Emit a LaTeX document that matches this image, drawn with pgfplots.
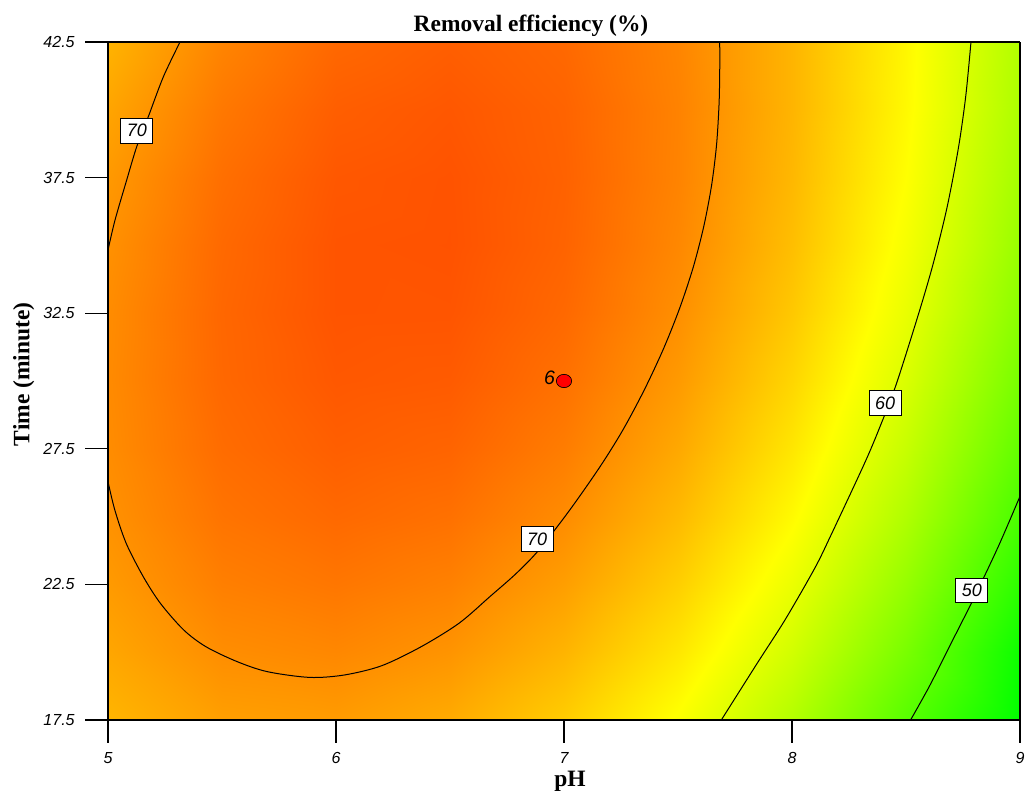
\documentclass[border=0pt]{standalone}
\usepackage{fontspec}
\setmainfont{Liberation Serif}
\newfontfamily\arial{Liberation Sans}
\usepackage{pgfplots}
\pgfplotsset{compat=1.18}
\pgfplotstableread{
x y z
5 17.5 67.19
5.5 17.5 68.77
6 17.5 69.03
6.5 17.5 67.94
7 17.5 65.52
7.5 17.5 61.76
8 17.5 56.66
8.5 17.5 50.22
9 17.5 42.45
5 20 68.27
5.5 20 70.03
6 20 70.46
6.5 20 69.55
7 20 67.30
7.5 20 63.71
8 20 58.78
8.5 20 52.52
9 20 44.92
5 22.5 69.11
5.5 22.5 71.05
6 22.5 71.65
6.5 22.5 70.91
7 22.5 68.83
7.5 22.5 65.42
8 22.5 60.67
8.5 22.5 54.58
9 22.5 47.16
5 25 69.72
5.5 25 71.83
6 25 72.61
6.5 25 72.04
7 25 70.14
7.5 25 66.91
8 25 62.33
8.5 25 56.42
9 25 49.17
5 27.5 70.08
5.5 27.5 72.37
6 27.5 73.32
6.5 27.5 72.93
7 27.5 71.21
7.5 27.5 68.14
8 27.5 63.74
8.5 27.5 58.01
9 27.5 50.93
5 30 70.22
5.5 30 72.68
6 30 73.80
6.5 30 73.59
7 30 72.04
7.5 30 69.15
8 30 64.92
8.5 30 59.36
9 30 52.46
5 32.5 70.11
5.5 32.5 72.75
6 32.5 74.05
6.5 32.5 74.01
7 32.5 72.64
7.5 32.5 69.93
8 32.5 65.88
8.5 32.5 60.49
9 32.5 53.76
5 35 69.77
5.5 35 72.58
6 35 74.06
6.5 35 74.19
7 35 72.99
7.5 35 70.45
8 35 66.58
8.5 35 61.36
9 35 54.81
5 37.5 69.20
5.5 37.5 72.18
6 37.5 73.83
6.5 37.5 74.14
7 37.5 73.11
7.5 37.5 70.75
8 37.5 67.05
8.5 37.5 62.01
9 37.5 55.63
5 40 68.37
5.5 40 71.54
6 40 73.36
6.5 40 73.85
7 40 73.00
7.5 40 70.81
8 40 67.28
8.5 40 62.42
9 40 56.22
5 42.5 67.33
5.5 42.5 70.66
6 42.5 72.66
6.5 42.5 73.32
7 42.5 72.64
7.5 42.5 70.63
8 42.5 67.28
8.5 42.5 62.59
9 42.5 56.56
}\surfdata
\begin{document}
\begin{tikzpicture}
\useasboundingbox (-81pt,-54pt) rectangle (687.75pt,540pt);
\begin{axis}[
  at={(0pt,0pt)}, anchor=south west,
  scale only axis, width=684pt, height=508.5pt,
  view={0}{90},
  xmin=5, xmax=9, ymin=17.5, ymax=42.5,
  xtick={5,6,7,8,9}, xticklabels={5,6,7,8,9},
  ytick={17.5,22.5,27.5,32.5,37.5,42.5},
  yticklabels={17.5,22.5,27.5,32.5,37.5,42.5},
  tick align=outside, major tick length=17pt,
  tick pos=left,
  tick style={black, line width=0.9pt},
  axis line style={black, line width=1.1pt},
  axis on top,
  ticklabel style={font=\arial\itshape\fontsize{12}{14}\selectfont},
  xticklabel style={yshift=-3.5pt},
  yticklabel style={xshift=-4.5pt},
  title={Removal efficiency (\%)},
  title style={font=\bfseries\fontsize{17.6}{20}\selectfont, at={(axis description cs:0.4638,1.01622)}, anchor=base, yshift=-6.5pt},
  xlabel={pH},
  xlabel style={font=\bfseries\fontsize{17.6}{20}\selectfont, at={(axis description cs:0.5066,-0.0985)}, anchor=base},
  ylabel={Time (minute)},
  ylabel style={font=\bfseries\fontsize{17.6}{20}\selectfont, at={(axis description cs:-0.0861,0.51)}, anchor=base},
  colormap={rsm}{rgb255(0cm)=(0,255,0); rgb255(1cm)=(255,255,0); rgb255(2cm)=(255,0,0)},
  point meta min=44, point meta max=80,
]
\addplot3[surf, shader=interp, mesh/cols=9] table[x=x, y=y, z=z] {\surfdata};

% contour 70 (main)
\addplot3[black, line width=0.75pt, smooth, tension=0.5] coordinates {
(5.0,26.29,80) (5.03,25.24,80) (5.08,24.01,80) (5.155,22.78,80) (5.23,21.8,80) (5.332,20.82,80)
(5.43,20.2,80) (5.567,19.65,80) (5.70,19.28,80) (5.885,19.07,80) (6.037,19.16,80) (6.20,19.5,80)
(6.373,20.2,80) (6.54,21.07,80) (6.675,22.05,80) (6.79,22.9,80) (6.89,23.77,80) (7.025,25.24,80)
(7.158,26.84,80) (7.258,28.19,80) (7.352,29.67,80) (7.437,31.2,80) (7.508,32.7,80) (7.567,34.2,80)
(7.613,35.7,80) (7.647,37.2,80) (7.669,38.7,80) (7.680,40.2,80) (7.683,41.4,80) (7.683,42.5,80)
};
% contour 70 (upper left)
\addplot3[black, line width=0.75pt, smooth, tension=0.5] coordinates {
(5.0,34.83,80) (5.031,35.94,80) (5.082,37.41,80) (5.126,38.64,80) (5.177,39.75,80) (5.243,41.22,80) (5.316,42.5,80)
};
% contour 60
\addplot3[black, line width=0.75pt, smooth, tension=0.5] coordinates {
(7.69,17.5,80) (7.848,19.6,80) (7.97,21.2,80) (8.10,23.1,80) (8.17,24.3,80) (8.32,27.0,80)
(8.39,28.4,80) (8.458,29.9,80) (8.556,32.5,80) (8.62,34.35,80) (8.68,36.4,80) (8.73,38.6,80)
(8.762,40.5,80) (8.785,42.5,80)
};
% contour 50
\addplot3[black, line width=0.75pt, smooth, tension=0.5] coordinates {
(8.52,17.5,80) (8.603,18.75,80) (8.69,20.2,80) (8.795,21.95,80) (8.905,23.9,80) (9.0,25.75,80)
};
% design point
\addplot3[only marks, mark=*, mark size=5pt, mark options={fill=red, draw=black, line width=0.5pt, xscale=1.15}] coordinates {(7,30,80)};

\tikzset{clab/.style={fill=white, draw=black, line width=0.7pt, inner xsep=4.5pt, inner ysep=4.5pt, font=\arial\itshape\fontsize{13.5}{14}\selectfont}}
\node[clab] at (axis cs:5.127,39.23,80) {70};
\node[clab] at (axis cs:6.882,24.17,80) {70};
\node[clab] at (axis cs:8.408,29.18,80) {60};
\node[clab] at (axis cs:8.789,22.28,80) {50};
\node[anchor=east, inner sep=0pt, font=\arial\itshape\fontsize{14.6}{15}\selectfont] at (axis cs:6.962,30.1,80) {6};
\end{axis}
\end{tikzpicture}
\end{document}
